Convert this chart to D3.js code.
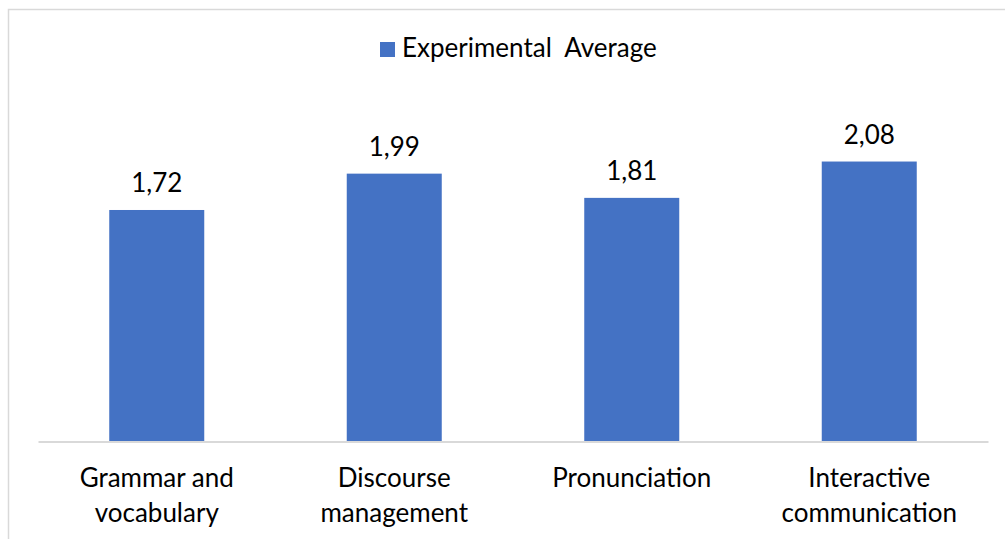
<!DOCTYPE html>
<html>
<head>
<meta charset="utf-8">
<script src="https://cdn.jsdelivr.net/npm/d3@7"></script>
<style>
  html, body { margin: 0; padding: 0; background: #fff; }
  svg { display: block; }
  text { font-family: Lato, "Open Sans", sans-serif; fill: #000; }
</style>
</head>
<body>
<svg id="chart" width="1005" height="539"></svg>
<script>
// Mean scores per speaking criterion
const categories = [["Grammar and", "vocabulary"], ["Discourse", "management"], ["Pronunciation"], ["Interactive", "communication"]];
const values = [1.72, 1.99, 1.81, 2.08];
const valueLabels = ["1,72", "1,99", "1,81", "2,08"];
const seriesName = "Experimental  Average";

const svg = d3.select("#chart");
const color = "#4472c4";
const fontSize = 26;

// outer chart frame
svg.append("rect")
  .attr("x", 8.5).attr("y", 9.5)
  .attr("width", 1020).attr("height", 560)
  .attr("fill", "none").attr("stroke", "#d9d9d9").attr("stroke-width", 1.5);

const plot = { left: 38, right: 988, top: 105, bottom: 441.5 };

const x = d3.scaleBand()
  .domain(d3.range(categories.length))
  .range([plot.left, plot.right])
  .paddingInner(0.6).paddingOuter(0.3);

const y = d3.scaleLinear().domain([0, 2.5]).range([plot.bottom, plot.top]);

// bars
svg.append("g").selectAll("rect")
  .data(values)
  .join("rect")
  .attr("x", (d, i) => x(i))
  .attr("y", d => y(d))
  .attr("width", x.bandwidth())
  .attr("height", d => y(0) - y(d))
  .attr("fill", color);

// category axis line
const axis = d3.axisBottom(x).tickSize(0).tickFormat("");
const gAxis = svg.append("g").attr("transform", `translate(0,${plot.bottom})`).call(axis);
gAxis.select(".domain").attr("stroke", "#d9d9d9").attr("stroke-width", 2);

// category labels
svg.append("g").selectAll("text")
  .data(categories)
  .join("text")
  .attr("text-anchor", "middle")
  .attr("font-size", fontSize)
  .each(function (lines, i) {
    const t = d3.select(this);
    lines.forEach((ln, k) => {
      t.append("tspan")
        .attr("x", x(i) + x.bandwidth() / 2)
        .attr("y", 487 + k * 35)
        .text(ln);
    });
  });

// value labels
svg.append("g").selectAll("text")
  .data(values)
  .join("text")
  .attr("x", (d, i) => x(i) + x.bandwidth() / 2)
  .attr("y", d => y(d) - 18)
  .attr("text-anchor", "middle")
  .attr("font-size", fontSize)
  .text((d, i) => valueLabels[i]);

// legend
const lg = svg.append("g");
lg.append("rect").attr("x", 380).attr("y", 42).attr("width", 15).attr("height", 15).attr("fill", color);
lg.append("text").attr("x", 402).attr("y", 57).attr("font-size", fontSize)
  .attr("xml:space", "preserve").style("white-space", "pre").text(seriesName);
</script>
</body>
</html>
